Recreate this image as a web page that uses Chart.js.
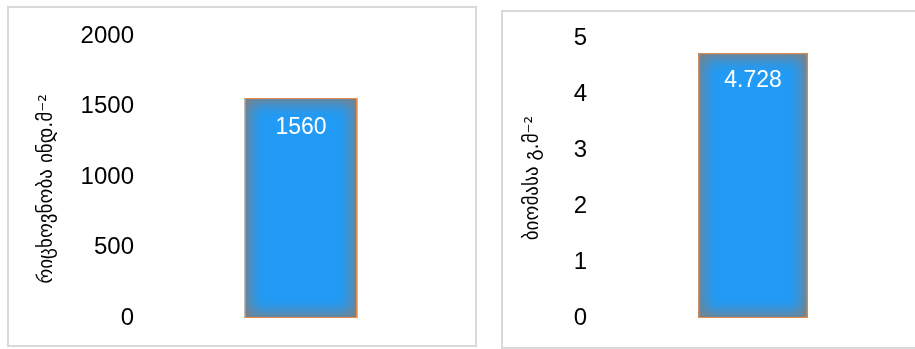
<!DOCTYPE html>
<html>
<head>
<meta charset="utf-8">
<script src="https://cdn.jsdelivr.net/npm/chart.js@4"></script>
<style>
  body { margin: 0; background: #fff; width: 915px; height: 349px; overflow: hidden; position: relative; }
  .box { position: absolute; border: 2px solid #d9d9d9; box-sizing: border-box; }
  canvas { position: absolute; }
</style>
</head>
<body>
<div class="box" style="left:7px;top:6px;width:470px;height:341px;"></div>
<div class="box" style="left:501px;top:10px;width:430px;height:339px;"></div>
<canvas id="leftChart" style="left:9px;top:8px;" width="466" height="337"></canvas>
<canvas id="rightChart" style="left:503px;top:12px;" width="412" height="337"></canvas>
<script>
// values
var categories = [''];
var countValues = [1560];
var biomassValues = [4.728];
var countTitle = 'რიცხოვნობა ინდ.მ⁻²';
var biomassTitle = 'ბიომასა გ.მ⁻²';

// inner glow + thin orange outline + value label on each bar
var barLook = {
    id: 'barLook',
    afterDatasetsDraw: function (chart, args, opts) {
        var c = chart.ctx;
        chart.getDatasetMeta(0).data.forEach(function (bar, i) {
            var l = bar.x - bar.width / 2, t = bar.y, w = bar.width, h = bar.base - bar.y;
            c.save();
            c.beginPath();
            c.rect(l, t, w, h);
            c.clip();
            for (var k = 0; k < 2; k++) {
                c.beginPath();
                c.rect(l - 80, t - 80, w + 160, h + 160);
                c.rect(l, t, w, h);
                c.shadowColor = 'rgba(128,128,128,1)';
                c.shadowBlur = 18;
                c.fillStyle = '#808080';
                c.fill('evenodd');
            }
            c.restore();

            c.save();
            c.strokeStyle = '#ed8c45';
            c.lineWidth = 1;
            c.strokeRect(l + 0.5, t + 0.5, w - 1, h - 1);
            c.fillStyle = '#ffffff';
            c.font = '23px "Liberation Sans", Arial, sans-serif';
            c.textAlign = 'center';
            c.textBaseline = 'middle';
            c.fillText(String(chart.data.datasets[0].data[i]), bar.x, t + opts.labelOffset);
            c.restore();
        });
    },
    // rotated y-axis title
    afterDraw: function (chart, args, opts) {
        var c = chart.ctx, s = chart.scales.y;
        c.save();
        c.translate(opts.titleX, (s.top + s.bottom) / 2 + opts.titleShift);
        c.rotate(-Math.PI / 2);
        c.fillStyle = '#000';
        c.font = '19px "DejaVu Sans", sans-serif';
        c.textAlign = 'center';
        c.textBaseline = 'middle';
        c.fillText(opts.title, 0, 0);
        c.restore();
    }
};

function makeChart(id, values, title, maxV, step, axisW, tickPad, titleX, titleShift, pad, barPct, labelOffset) {
    return new Chart(document.getElementById(id).getContext('2d'), {
        type: 'bar',
        data: {
            labels: categories,
            datasets: [{
                data: values,
                backgroundColor: '#219bf6',
                borderWidth: 0,
                barPercentage: barPct,
                categoryPercentage: 1
            }]
        },
        options: {
            responsive: false,
            animation: false,
            layout: { padding: pad },
            plugins: {
                legend: { display: false },
                tooltip: { enabled: false },
                barLook: { labelOffset: labelOffset, title: title, titleX: titleX, titleShift: titleShift }
            },
            scales: {
                x: { display: false },
                y: {
                    min: 0,
                    max: maxV,
                    afterFit: function (scale) { scale.width = axisW; },
                    grid: { display: false, drawTicks: false },
                    border: { display: false },
                    ticks: {
                        stepSize: step,
                        padding: tickPad,
                        color: '#000',
                        callback: function (v) { return String(v); },
                        font: { family: '"Liberation Sans", Arial, sans-serif', size: 24 }
                    }
                }
            }
        },
        plugins: [barLook]
    });
}

makeChart('leftChart', countValues, countTitle, 2000, 500, 136, 11, 38, 12,
    { left: 0, right: 18, top: 28, bottom: 27 }, 0.36, 30);
makeChart('rightChart', biomassValues, biomassTitle, 5, 1, 94, 10, 30, 0,
    { left: 0, right: 6, top: 26, bottom: 31 }, 0.35, 27);
</script>
</body>
</html>
